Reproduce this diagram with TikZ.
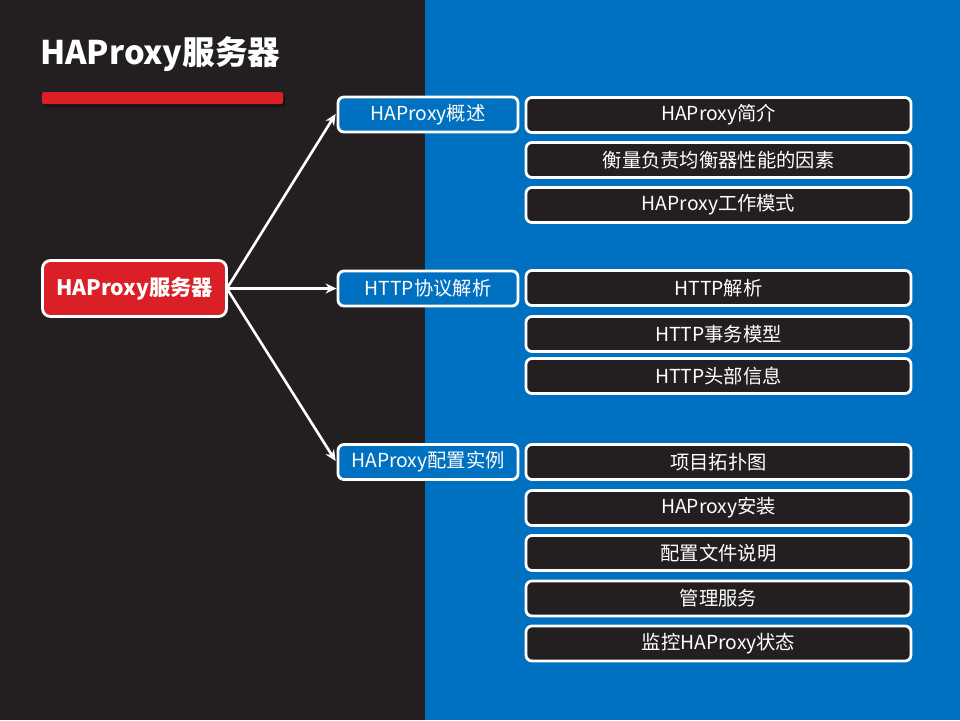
\documentclass[tikz,border=0pt]{standalone}
\usepackage{fontspec}
\setmainfont{Noto Sans CJK SC}
\usetikzlibrary{arrows.meta}
\definecolor{darkbg}{HTML}{231F20}
\definecolor{bluebg}{HTML}{0070C0}
\definecolor{redc}{HTML}{DA1F26}
\tikzset{
  box/.style={draw=white, line width=2.8pt, rounded corners=6pt, inner sep=0pt, text=white,
     font=\fontsize{19.3}{21}\selectfont},
  midbox/.style={box, fill=bluebg, minimum width=180pt, minimum height=35pt},
  rightbox/.style={box, fill=darkbg, minimum width=385pt, minimum height=35pt},
  mainbox/.style={box, fill=redc, minimum width=184pt, minimum height=56pt, rounded corners=8pt,
     font=\fontsize{21.3}{24}\selectfont\bfseries},
  conn/.style={draw=white, line width=2.6pt, -{Stealth[length=11pt,width=10pt]}}
}
\begin{document}
\begin{tikzpicture}[x=1pt,y=-1pt]
\useasboundingbox (0,0) rectangle (960,720);
\fill[darkbg] (0,0) rectangle (425,720);
\fill[bluebg] (425,0) rectangle (960,720);
% title
\node[anchor=west, text=white, font=\fontsize{32.6}{36}\selectfont\bfseries, inner sep=0pt] (title) at (40,54) {HAProxy服务器};
\fill[black, opacity=0.35, rounded corners=2pt] (44,95) rectangle (285,107);
\fill[redc, rounded corners=2pt] (42,92) rectangle (283,104);
% main node
\node[mainbox] (main) at (134.5,288.5) {HAProxy服务器};
% mid nodes
\node[midbox] (m1) at (428,114.5) {HAProxy概述};
\node[midbox] (m2) at (428,288.5) {HTTP协议解析};
\node[midbox] (m3) at (428,462) {HAProxy配置实例};
% right nodes
\node[rightbox] (r1) at (718.5,115) {HAProxy简介};
\node[rightbox] (r2) at (718.5,160) {衡量负责均衡器性能的因素};
\node[rightbox] (r3) at (718.5,205) {HAProxy工作模式};
\node[rightbox] (r4) at (718.5,288) {HTTP解析};
\node[rightbox] (r5) at (718.5,334) {HTTP事务模型};
\node[rightbox] (r6) at (718.5,376) {HTTP头部信息};
\node[rightbox] (r7) at (718.5,462) {项目拓扑图};
\node[rightbox] (r8) at (718.5,508) {HAProxy安装};
\node[rightbox] (r9) at (718.5,553) {配置文件说明};
\node[rightbox] (r10) at (718.5,598.5) {管理服务};
\node[rightbox] (r11) at (718.5,643.5) {监控HAProxy状态};
% connectors
\coordinate (src) at ([xshift=-1pt]main.east);
\draw[conn] (src) -- ([xshift=-1pt,yshift=2pt]m1.west |- 0,116);
\draw[conn] (src) -- (m2.west);
\draw[conn] (src) -- ([xshift=-1pt]m3.west |- 0,461);
\end{tikzpicture}
\end{document}
